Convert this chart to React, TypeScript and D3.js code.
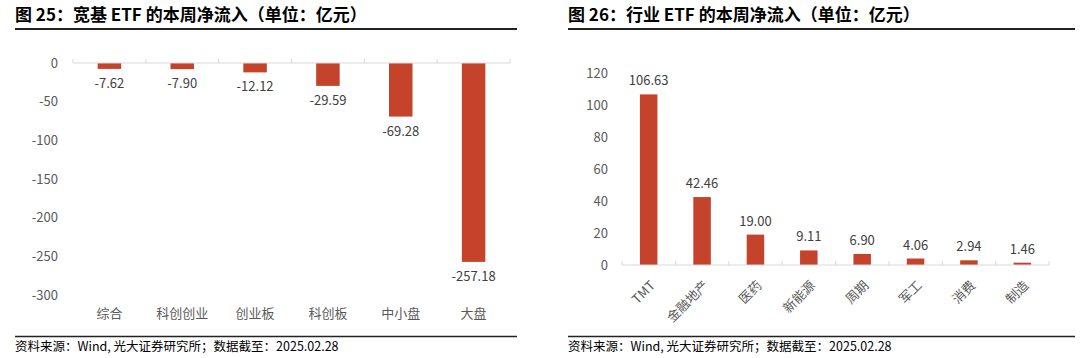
import React from "react";
import * as d3 from "d3";

const leftCategories = ["综合", "科创创业", "创业板", "科创板", "中小盘", "大盘"];
const leftValues = [-7.62, -7.9, -12.12, -29.59, -69.28, -257.18];
const leftTicks = [0, -50, -100, -150, -200, -250, -300];

const rightCategories = ["TMT", "金融地产", "医药", "新能源", "周期", "军工", "消费", "制造"];
const rightValues = [106.63, 42.46, 19.0, 9.11, 6.9, 4.06, 2.94, 1.46];
const rightTicks = [0, 20, 40, 60, 80, 100, 120];

const BAR = "#C4432A";
const FONT = "'Noto Sans CJK SC', 'Noto Sans', sans-serif";

function LeftChart() {
  const x = d3.scaleBand<string>().domain(leftCategories).range([73, 510]);
  const y = d3.scaleLinear().domain([-300, 0]).range([295, 63]);
  const bw = 23.5;
  return (
    <g>
      {leftTicks.map((t) => (
        <text key={t} x={58} y={y(t)} dy="0.35em" textAnchor="end" fontSize={13} fill="#595959">
          {t}
        </text>
      ))}
      {leftCategories.map((c, i) => {
        const cx = x(c)! + x.bandwidth() / 2;
        const v = leftValues[i];
        return (
          <g key={c}>
            <rect x={cx - bw / 2} y={y(0)} width={bw} height={y(v) - y(0)} fill={BAR} />
            <text x={cx} y={y(v) + 19} textAnchor="middle" fontSize={13} fill="#404040">
              {v.toFixed(2)}
            </text>
            <text x={cx} y={313} dy="0.35em" textAnchor="middle" fontSize={13} fill="#595959">
              {c}
            </text>
          </g>
        );
      })}
      <line x1={73} x2={510} y1={y(0)} y2={y(0)} stroke="#d9d9d9" strokeWidth={1} />
      {d3.range(leftCategories.length + 1).map((i) => {
        const xx = 73 + i * x.step();
        return <line key={i} x1={xx} x2={xx} y1={y(0)} y2={y(0) - 4} stroke="#d9d9d9" />;
      })}
    </g>
  );
}

function RightChart() {
  const x = d3.scaleBand<string>().domain(rightCategories).range([622, 1049]);
  const y = d3.scaleLinear().domain([0, 120]).range([265, 73]);
  const bw = 17.5;
  return (
    <g>
      {rightTicks.map((t) => (
        <text key={t} x={608} y={y(t)} dy="0.35em" textAnchor="end" fontSize={13} fill="#595959">
          {t}
        </text>
      ))}
      {rightCategories.map((c, i) => {
        const cx = x(c)! + x.bandwidth() / 2;
        const v = rightValues[i];
        return (
          <g key={c}>
            <rect x={cx - bw / 2} y={y(v)} width={bw} height={y(0) - y(v)} fill={BAR} />
            <text x={cx} y={y(v) - 9} textAnchor="middle" fontSize={13} fill="#404040">
              {v.toFixed(2)}
            </text>
            <text
              transform={`translate(${cx + 4},${y(0) + 18}) rotate(-45)`}
              textAnchor="end"
              dy="0.35em"
              fontSize={13}
              fill="#595959"
            >
              {c}
            </text>
          </g>
        );
      })}
      <line x1={622} x2={1049} y1={y(0)} y2={y(0)} stroke="#d9d9d9" strokeWidth={1} />
      {d3.range(rightCategories.length + 1).map((i) => {
        const xx = 622 + i * x.step();
        return <line key={i} x1={xx} x2={xx} y1={y(0)} y2={y(0) - 4} stroke="#d9d9d9" />;
      })}
    </g>
  );
}

export default function App() {
  return (
    <svg
      width={1080}
      height={358}
      style={{ position: "absolute", left: 0, top: 0, background: "#fff" }}
      fontFamily={FONT}
    >
      <rect width={1080} height={358} fill="#fff" />
      <text x={15} y={21} fontSize={17} fontWeight="bold" fill="#000">
        图 25：宽基 ETF 的本周净流入（单位：亿元）
      </text>
      <line x1={15} x2={517} y1={29} y2={29} stroke="#222" strokeWidth={2} />
      <text x={568} y={21} fontSize={17} fontWeight="bold" fill="#000">
        图 26：行业 ETF 的本周净流入（单位：亿元）
      </text>
      <line x1={568} x2={1075} y1={29} y2={29} stroke="#222" strokeWidth={2} />
      <LeftChart />
      <RightChart />
      <line x1={15} x2={517} y1={336.5} y2={336.5} stroke="#222" strokeWidth={1.5} />
      <line x1={568} x2={1075} y1={336.5} y2={336.5} stroke="#222" strokeWidth={1.5} />
      <text x={15} y={351} fontSize={12.5} fill="#000">
        资料来源：Wind, 光大证券研究所；数据截至：2025.02.28
      </text>
      <text x={568} y={351} fontSize={12.5} fill="#000">
        资料来源：Wind, 光大证券研究所；数据截至：2025.02.28
      </text>
    </svg>
  );
}
